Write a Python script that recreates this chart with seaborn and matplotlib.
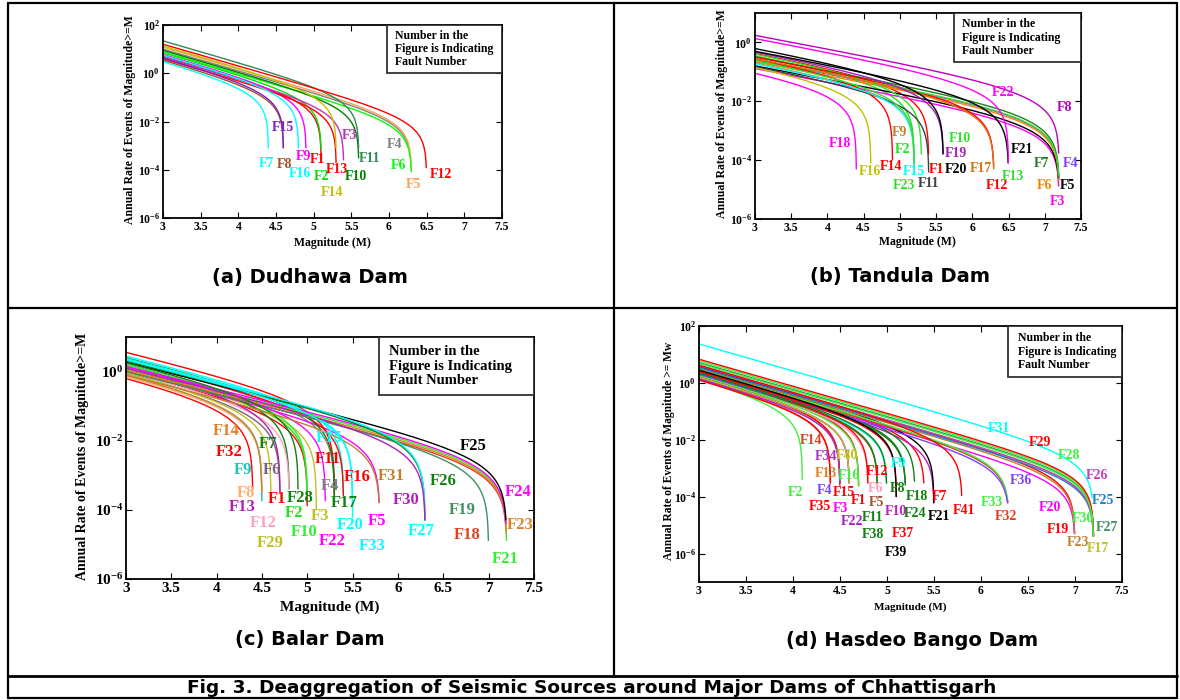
import numpy as np
import pandas as pd
import matplotlib
matplotlib.use("Agg")
import matplotlib.pyplot as plt
import seaborn as sns
from matplotlib.lines import Line2D
from matplotlib.patches import Rectangle
from matplotlib.ticker import NullLocator

# ---------------- DATA ----------------
# (a) Dudhawa Dam
a_faults = ["F%d" % i for i in range(1, 17)]
a_mmax = [5.1, 5.1, 5.4, 6.3, 6.3, 6.3, 4.4, 4.6, 4.9, 5.6, 5.6, 6.5, 5.3, 5.3, 4.6, 4.8]
a_rate3 = [5.2, 7.1, 4.6, 10.0, 12.0, 7.6, 3.0, 3.5, 6.0, 8.9, 22.0, 16.0, 4.0, 13.5, 4.2, 5.6]
a_end = [2e-4, 7e-4, 2.5e-4, 1e-3, 1e-4, 8e-5, 8e-4, 8e-4, 8e-4, 3e-4, 8e-4, 1.2e-4, 2e-4, 8e-4, 8e-4, 8e-4]
a_b = 0.9

# (b) Tandula Dam
b_faults = ["F%d" % i for i in range(1, 24)]
b_mmax = [5.4, 5.2, 7.2, 7.2, 7.2, 7.2, 7.2, 7.2, 5.2, 5.3, 5.4, 6.3, 7.2, 4.9, 5.2, 4.6,
          6.3, 4.4, 5.6, 5.6, 6.5, 6.5, 5.2]
b_rate3 = [0.42, 0.35, 0.13, 0.25, 0.16, 0.22, 0.32, 1.74, 0.20, 0.40, 0.15, 0.32, 0.26, 0.28,
           0.19, 0.14, 0.28, 0.089, 0.47, 0.62, 0.50, 1.35, 0.24]
b_end = [1.6e-4, 1.2e-4, 1.3e-5, 2.5e-5, 2e-5, 2e-5, 2.5e-5, 1.7e-4, 8e-5, 1.6e-4, 4e-5, 6e-5,
         3e-5, 1e-4, 5e-5, 8e-5, 5e-5, 5e-5, 1.7e-4, 1.6e-4, 8e-5, 8e-5, 7e-5]
b_b = 0.46

# (c) Balar Dam
c_faults = ["F%d" % i for i in range(1, 34)]
c_mmax = [5.0, 5.0, 5.1, 5.3, 5.8, 4.7, 4.8, 4.5, 4.5, 5.0, 5.3, 4.8, 4.7, 4.5, 5.4, 5.4, 5.3,
          7.2, 7.0, 5.5, 7.2, 5.2, 7.2, 7.2, 7.2, 6.3, 6.3, 4.9, 4.6, 6.3, 5.8, 4.4, 5.5]
c_rate3 = [1.0, 1.26, 1.12, 2.0, 1.0, 0.89, 1.6, 0.71, 0.79, 1.6, 3.6, 1.0, 1.26, 0.79, 2.8,
           2.0, 2.5, 1.0, 1.0, 2.4, 1.26, 1.4, 1.12, 1.4, 1.86, 2.0, 2.2, 1.8, 0.89, 1.26,
           0.79, 0.63, 2.2]
c_end = [1.3e-4, 2.5e-4, 1e-4, 2.5e-4, 1.6e-4, 3.2e-4, 4e-4, 2.5e-4, 1.8e-4, 3.2e-4, 2.5e-4,
         4e-4, 3.2e-4, 3.2e-4, 3.2e-4, 2.5e-4, 2.5e-4, 2.5e-5, 1.3e-5, 6e-5, 1.3e-5, 1.8e-4,
         2e-5, 4e-5, 5e-5, 5e-5, 5e-5, 4e-4, 3.2e-4, 5e-5, 1.6e-4, 3.7e-4, 1e-4]
c_b = 0.65

# (d) Hasdeo Bango Dam
d_faults = ["F%d" % i for i in range(1, 42)]
d_mmax = [4.7, 4.1, 4.6, 4.5, 4.9, 4.8, 5.4, 5.2, 5.0, 5.5, 4.9, 4.8, 4.5, 4.4, 4.5, 4.7, 7.2,
          5.3, 7.0, 7.0, 5.5, 4.6, 7.0, 5.2, 7.2, 7.2, 7.2, 7.2, 7.2, 7.2, 7.2, 6.3, 6.3, 4.5,
          4.4, 6.3, 5.1, 5.0, 5.1, 4.6, 5.8]
d_rate3 = [2.0, 1.32, 1.6, 1.4, 1.8, 1.8, 3.2, 2.5, 2.0, 2.2, 2.0, 2.2, 1.66, 1.32, 1.66, 1.8,
           4.0, 3.3, 3.8, 2.2, 3.7, 1.6, 3.2, 2.8, 3.5, 4.0, 5.2, 6.0, 6.8, 4.8, 23.4, 2.5,
           2.8, 1.4, 1.26, 2.0, 2.5, 2.2, 2.8, 1.6, 4.2]
d_end = [2.5e-4, 4e-4, 3e-4, 3e-4, 3e-4, 3e-4, 3e-4, 2.5e-4, 3e-4, 6e-5, 3e-4, 3e-4, 3e-4,
         3e-4, 2.5e-4, 2.3e-4, 4e-6, 3.5e-4, 5e-6, 5e-6, 6e-5, 3e-4, 5e-6, 3e-4, 4e-6, 4e-6,
         4e-6, 4e-6, 4e-6, 4e-6, 9e-5, 6e-5, 6e-5, 3e-4, 3e-4, 6e-5, 1e-4, 3e-4, 1e-4, 3e-4,
         1.1e-4]
d_b = 0.95

# ---------------- STYLE / LAYOUT ----------------
RED, BLK = "#ff0000", "#000000"
a_colors = [RED, "#00e000", "#c030c0", "#808080", "#ffa050", "#00ff00", "#00ffff", "#a0522d",
            "#ff00ff", "#008000", "#2e8b57", RED, RED, "#c0c000", "#8020c0", "#00ffff"]
b_colors = [RED, "#20e020", "#ff00ff", "#8040ff", BLK, "#ff8000", "#208020", "#c000c0",
            "#c08030", "#30e030", "#404040", RED, "#30e030", RED, "#00ffff", "#c0c000",
            "#e07010", "#ff00ff", "#a020c0", BLK, BLK, "#ff00ff", "#30e030"]
c_colors = [RED, "#20e020", "#c0c020", "#808080", "#ff00ff", "#806080", "#108010", "#ffb070",
            "#20c0c0", "#30f030", RED, "#ffa0c0", "#b020b0", "#e08020", "#00ffff", RED,
            "#108010", "#e04020", "#409060", "#00ffff", "#30f030", "#ff00ff", "#e08020",
            "#ff00ff", BLK, "#108010", "#00ffff", "#108010", "#c0c020", "#b020c0", "#c08030",
            RED, "#00ffff"]
d_colors = [RED, "#40f040", "#ff00ff", "#8040ff", "#a0522d", "#ffa0c0", RED, "#108010",
            "#00ffff", "#c020c0", "#108010", RED, "#e08020", "#e04020", RED, "#40f040",
            "#c0c020", "#108010", RED, "#ff00ff", BLK, "#a020c0", "#c08030", "#108010",
            "#2080d0", "#c040c0", "#409060", "#40f040", RED, "#40f040", "#00ffff", "#e04020",
            "#40f040", "#b030c0", RED, "#8040ff", RED, "#108010", BLK, "#c0c020", RED]

# label positions (magnitude, log10 rate)
a_lx = [5.05, 5.1, 5.47, 6.08, 6.33, 6.13, 4.38, 4.62, 4.86, 5.56, 5.74, 6.69, 5.31, 5.24, 4.59, 4.82]
a_ly = [-3.57, -4.3, -2.56, -2.94, -4.6, -3.81, -3.73, -3.77, -3.44, -4.3, -3.52, -4.18, -3.98, -4.93, -2.23, -4.15]
b_lx = [5.51, 5.04, 7.17, 7.35, 7.32, 7.0, 6.95, 7.27, 5.0, 5.83, 5.4, 6.34, 6.56, 4.88, 5.2,
        4.59, 6.12, 4.17, 5.78, 5.77, 6.68, 6.43, 5.05]
b_ly = [-4.33, -3.65, -5.39, -4.1, -4.85, -4.85, -4.13, -2.2, -3.06, -3.28, -4.78, -4.85, -4.54,
        -4.2, -4.4, -4.37, -4.3, -3.45, -3.79, -4.33, -3.65, -1.71, -4.85]
c_lx = [4.67, 4.85, 5.14, 5.25, 5.77, 4.61, 4.57, 4.32, 4.29, 4.96, 5.23, 4.51, 4.28, 4.11, 5.24,
        5.55, 5.41, 6.76, 6.71, 5.47, 7.18, 5.27, 7.35, 7.33, 6.83, 6.5, 6.26, 4.92, 4.59, 6.09,
        5.93, 4.14, 5.71]
c_ly = [-3.69, -4.09, -4.18, -3.31, -4.32, -2.85, -2.1, -3.51, -2.85, -4.64, -2.54, -4.38, -3.92,
        -1.73, -1.93, -3.05, -3.8, -4.73, -4.0, -4.44, -5.42, -4.9, -4.44, -3.49, -2.16, -3.17,
        -4.61, -3.66, -4.96, -3.72, -3.03, -2.33, -5.04]
d_lx = [4.7, 4.03, 4.5, 4.34, 4.89, 4.88, 5.56, 5.11, 5.12, 5.09, 4.85, 4.89, 4.35, 4.19, 4.54,
        4.6, 7.24, 5.32, 6.82, 6.73, 5.55, 4.63, 7.03, 5.3, 7.3, 7.23, 7.34, 6.94, 6.63, 7.08,
        6.19, 6.27, 6.12, 4.35, 4.29, 6.42, 5.17, 4.85, 5.1, 4.57, 5.82]
d_ly = [-4.15, -3.87, -4.4, -3.77, -4.19, -3.7, -4.01, -3.7, -2.82, -4.51, -4.72, -3.13, -3.17,
        -2.04, -3.87, -3.27, -5.81, -4.01, -5.14, -4.37, -4.68, -4.86, -5.6, -4.58, -4.15, -3.27,
        -5.1, -2.54, -2.11, -4.75, -1.62, -4.68, -4.19, -2.6, -4.33, -3.42, -5.28, -5.32, -5.95,
        -2.57, -4.47]

W, H = 1180, 700
sns.set_style("ticks")
plt.rcParams["font.family"] = ["Liberation Serif", "DejaVu Serif"]
plt.rcParams["font.weight"] = "bold"
plt.rcParams["mathtext.fontset"] = "custom"
plt.rcParams["mathtext.rm"] = "Liberation Serif:bold"
plt.rcParams["mathtext.it"] = "Liberation Serif:bold"
plt.rcParams["mathtext.bf"] = "Liberation Serif:bold"
for k in ["text.color", "axes.labelcolor", "xtick.color", "ytick.color", "axes.edgecolor"]:
    plt.rcParams[k] = "black"

fig = plt.figure(figsize=(W / 100, H / 100), dpi=100)


def px_rect(l, r, t, b):
    return [l / W, 1 - b / H, (r - l) / W, (b - t) / H]


def curve(rate3, mmax, end, bval):
    d = np.geomspace(1e-7, mmax - 3.0, 800)
    m = np.sort(mmax - d)
    num = 10 ** (-bval * (m - 3.0)) - 10 ** (-bval * (mmax - 3.0))
    den = 1 - 10 ** (-bval * (mmax - 3.0))
    n = rate3 * num / den
    keep = n >= end
    return m[keep], n[keep]


def panel(rect, faults, mmax, rate3, end, bval, colors, lx, ly, ylim, yticks, tick_fs,
          lab_fs, box, box_fs):
    ax = fig.add_axes(rect)
    frames = []
    for f, mm, r3, e in zip(faults, mmax, rate3, end):
        m, n = curve(r3, mm, e, bval)
        frames.append(pd.DataFrame({"M": m, "rate": n, "fault": f}))
    df = pd.concat(frames, ignore_index=True)
    pal = dict(zip(faults, colors))
    sns.lineplot(data=df, x="M", y="rate", hue="fault", palette=pal, estimator=None,
                 legend=False, linewidth=1.0, ax=ax, sort=False)
    ax.set_yscale("log")
    ax.set_xlim(3, 7.5)
    ax.set_ylim(*ylim)
    ax.set_xticks([3, 3.5, 4, 4.5, 5, 5.5, 6, 6.5, 7, 7.5])
    ax.set_xticklabels(["3", "3.5", "4", "4.5", "5", "5.5", "6", "6.5", "7", "7.5"],
                       fontsize=tick_fs, fontweight="bold")
    ax.set_yticks(yticks)
    ax.set_yticklabels([r"$10^{%d}$" % int(round(np.log10(t))) for t in yticks],
                       fontsize=tick_fs)
    ax.yaxis.set_minor_locator(NullLocator())
    ax.xaxis.set_minor_locator(NullLocator())
    ax.tick_params(direction="in", top=True, right=True, length=4, width=0.8, pad=2)
    ax.set_xlabel("")
    ax.set_ylabel("")
    for s in ax.spines.values():
        s.set_visible(True)
        s.set_linewidth(1.3)
        s.set_color("black")
    for f, x, y, c in zip(faults, lx, ly, colors):
        ax.text(x, 10 ** y, f, color=c, fontsize=lab_fs, fontweight="bold",
                ha="center", va="center")
    bx0, by0 = box
    ax.add_patch(Rectangle((bx0, by0), 1 - bx0, 1 - by0, transform=ax.transAxes,
                           facecolor="white", edgecolor="#333333", lw=1.3, zorder=5))
    ax.text(bx0 + 0.025, (1 + by0) / 2, "Number in the\nFigure is Indicating\nFault Number",
            transform=ax.transAxes, fontsize=box_fs, fontweight="bold", ha="left",
            va="center", linespacing=1.15, zorder=6)
    return ax


even = lambda lo, hi: [10.0 ** k for k in range(hi, lo - 1, -2)]

panel(px_rect(163, 502, 25, 218), a_faults, a_mmax, a_rate3, a_end, a_b, a_colors, a_lx, a_ly,
      (1e-6, 1e2), even(-6, 2), 8.5, 10, (0.66, 0.75), 8.5)
panel(px_rect(755, 1081, 13, 219), b_faults, b_mmax, b_rate3, b_end, b_b, b_colors, b_lx, b_ly,
      (1e-6, 1e1), even(-6, 0), 8.5, 10, (0.61, 0.762), 8.5)
panel(px_rect(126, 534, 337, 579), c_faults, c_mmax, c_rate3, c_end, c_b, c_colors, c_lx, c_ly,
      (1e-6, 1e1), even(-6, 0), 11, 12, (0.62, 0.76), 10.5)
panel(px_rect(699, 1122, 326, 582), d_faults, d_mmax, d_rate3, d_end, d_b, d_colors, d_lx, d_ly,
      (1e-7, 1e2), even(-6, 2), 8.5, 10, (0.73, 0.80), 8.5)


def ftext(x, y, s, **kw):
    fig.text(x / W, 1 - y / H, s, ha="center", va="center", **kw)


# axis labels
ftext(130, 120, "Annual Rate of Events of Magnitude>=M", rotation=90, fontsize=8.5, fontweight="bold")
ftext(332, 243, "Magnitude (M)", fontsize=8.5, fontweight="bold")
ftext(722, 114, "Annual Rate of Events of Magnitude>=M", rotation=90, fontsize=8.5, fontweight="bold")
ftext(917, 242, "Magnitude (M)", fontsize=8.5, fontweight="bold")
ftext(83, 456, "Annual Rate of Events of Magnitude>=M", rotation=90, fontsize=10, fontweight="bold")
ftext(330, 607, "Magnitude (M)", fontsize=11, fontweight="bold")
ftext(669, 451, "Annual Rate of Events of Magnitude >= Mw", rotation=90, fontsize=8.3, fontweight="bold")
ftext(910, 607, "Magnitude (M)", fontsize=8, fontweight="bold")

# panel captions
cap = dict(fontsize=14, fontweight="bold", family=["DejaVu Sans"], color="black")
ftext(310, 277, "(a) Dudhawa Dam", **cap)
ftext(900, 276, "(b) Tandula Dam", **cap)
ftext(310, 640, "(c) Balar Dam", **cap)
ftext(912, 640, "(d) Hasdeo Bango Dam", **cap)
ftext(592, 688, "Fig. 3. Deaggregation of Seismic Sources around Major Dams of Chhattisgarh",
      fontsize=13.3, fontweight="bold", family=["DejaVu Sans"], color="black")


# table frame
def fline(x0, y0, x1, y1, lw=1.6):
    fig.add_artist(Line2D([x0 / W, x1 / W], [1 - y0 / H, 1 - y1 / H], color="black", lw=lw))


fline(8, 3, 1177, 3)
fline(8, 698, 1177, 698)
fline(8, 3, 8, 698)
fline(1177, 3, 1177, 698)
fline(614, 3, 614, 676)
fline(8, 308, 1177, 308)
fline(8, 676, 1177, 676, lw=2.0)

fig.savefig("out.png", dpi=100, facecolor="white")
